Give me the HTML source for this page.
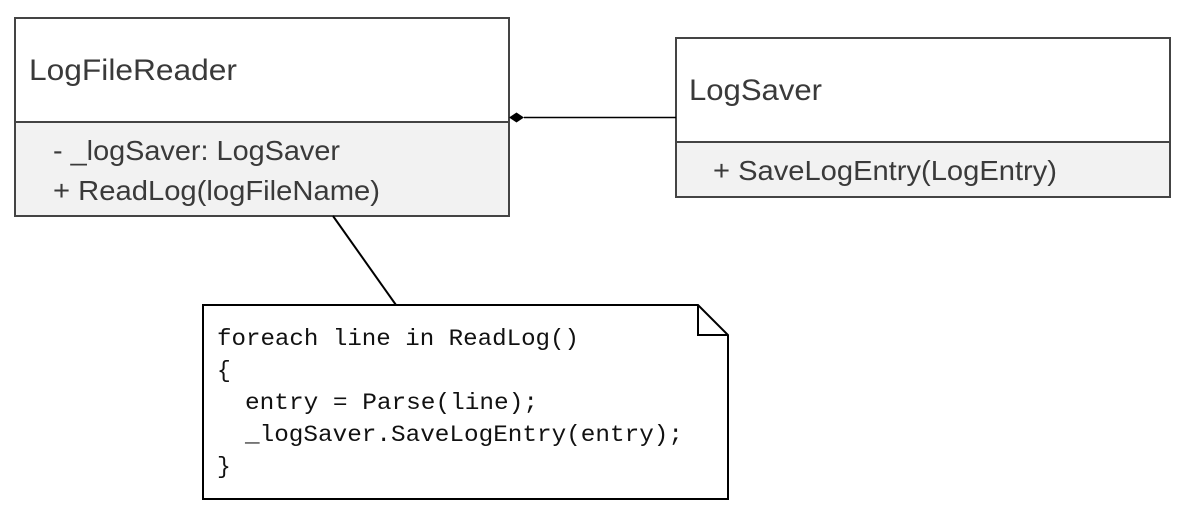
<!DOCTYPE html>
<html><head><meta charset="utf-8"><style>
html,body{margin:0;padding:0;background:#fff;width:1194px;height:512px;overflow:hidden}
svg{display:block}
.s{font-family:"Liberation Sans",sans-serif;fill:#3a3a3a}
.m{font-family:"Liberation Mono",monospace;font-size:23px;fill:#111}
</style></head><body>
<svg width="1194" height="512" viewBox="0 0 1194 512">
<!-- LogFileReader -->
<rect x="15" y="122" width="494" height="94" fill="#f2f2f2"/>
<rect x="15" y="18" width="494" height="198" fill="none" stroke="#444" stroke-width="2"/>
<line x1="15" y1="122" x2="509" y2="122" stroke="#444" stroke-width="2"/>
<text class="s" x="29" y="80" font-size="30" textLength="208" lengthAdjust="spacingAndGlyphs">LogFileReader</text>
<text class="s" x="53" y="160" font-size="28" textLength="287" lengthAdjust="spacingAndGlyphs">- _logSaver: LogSaver</text>
<text class="s" x="53" y="200" font-size="28" textLength="327" lengthAdjust="spacingAndGlyphs">+ ReadLog(logFileName)</text>
<!-- LogSaver -->
<rect x="676" y="142" width="494" height="55" fill="#f2f2f2"/>
<rect x="676" y="38" width="494" height="159" fill="none" stroke="#444" stroke-width="2"/>
<line x1="676" y1="142" x2="1170" y2="142" stroke="#444" stroke-width="2"/>
<text class="s" x="689" y="100" font-size="30" textLength="133" lengthAdjust="spacingAndGlyphs">LogSaver</text>
<text class="s" x="713" y="180" font-size="28" textLength="344" lengthAdjust="spacingAndGlyphs">+ SaveLogEntry(LogEntry)</text>
<!-- composition -->
<line x1="524" y1="117.5" x2="676" y2="117.5" stroke="#000" stroke-width="1.5"/>
<polygon points="509,117.5 516.5,112.5 524,117.5 516.5,122.5" fill="#000"/>
<!-- note link -->
<line x1="333" y1="216" x2="396" y2="305" stroke="#000" stroke-width="2"/>
<!-- note -->
<path d="M203,305 H698 L728,335 V499 H203 Z" fill="#fff" stroke="#000" stroke-width="2"/>
<path d="M698,305 V335 H728" fill="none" stroke="#000" stroke-width="2"/>
<text class="m" x="217" y="345" textLength="362" lengthAdjust="spacingAndGlyphs">foreach line in ReadLog()</text>
<text class="m" x="217" y="377">{</text>
<text class="m" x="245" y="409" textLength="293" lengthAdjust="spacingAndGlyphs">entry = Parse(line);</text>
<text class="m" x="245" y="441" textLength="438" lengthAdjust="spacingAndGlyphs">_logSaver.SaveLogEntry(entry);</text>
<text class="m" x="217" y="473">}</text>
</svg>
</body></html>
